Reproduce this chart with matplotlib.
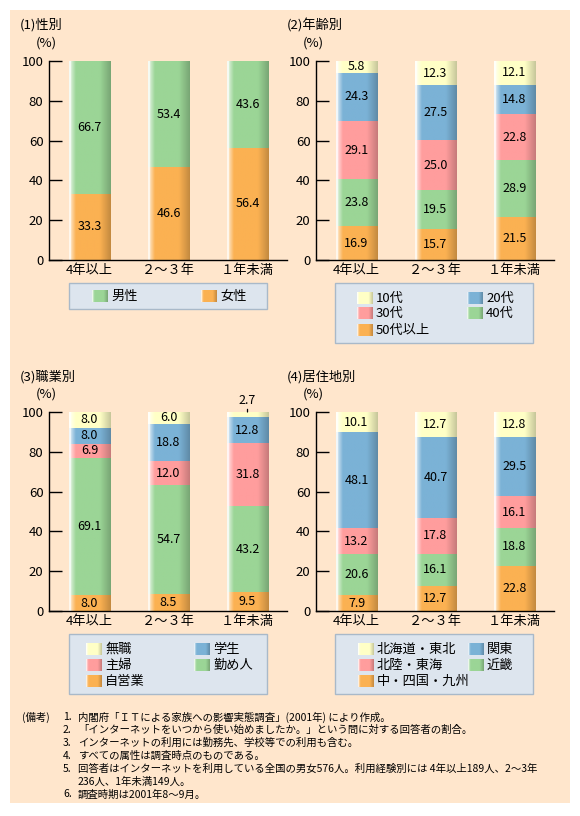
import numpy as np
import matplotlib
matplotlib.use('Agg')
import matplotlib.pyplot as plt
from matplotlib.patches import Rectangle

plt.rcParams['font.family'] = ['Noto Sans CJK JP', 'DejaVu Sans']

# データ
cats = ['4年以上', '２～３年', '１年未満']

sex_names = ['女性', '男性']
sex_vals = [[33.3, 46.6, 56.4], [66.7, 53.4, 43.6]]

age_names = ['50代以上', '40代', '30代', '20代', '10代']
age_vals = [[16.9, 15.7, 21.5], [23.8, 19.5, 28.9], [29.1, 25.0, 22.8],
            [24.3, 27.5, 14.8], [5.8, 12.3, 12.1]]

job_names = ['自営業', '勤め人', '主婦', '学生', '無職']
job_vals = [[8.0, 8.5, 9.5], [69.1, 54.7, 43.2], [6.9, 12.0, 31.8],
            [8.0, 18.8, 12.8], [8.0, 6.0, 2.7]]

area_names = ['中・四国・九州', '近畿', '北陸・東海', '関東', '北海道・東北']
area_vals = [[7.9, 12.7, 22.8], [20.6, 16.1, 18.8], [13.2, 17.8, 16.1],
             [48.1, 40.7, 29.5], [10.1, 12.7, 12.8]]

notes = [
    ('(備考)', '1.', '内閣府「ＩＴによる家族への影響実態調査」(2001年) により作成。'),
    ('', '2.', '「インターネットをいつから使い始めましたか。」という問に対する回答者の割合。'),
    ('', '3.', 'インターネットの利用には勤務先、学校等での利用も含む。'),
    ('', '4.', 'すべての属性は調査時点のものである。'),
    ('', '5.', '回答者はインターネットを利用している全国の男女576人。利用経験別には 4年以上189人、2～3年'),
    ('', '', '236人、1年未満149人。'),
    ('', '6.', '調査時期は2001年8～9月。'),
]

ORANGE = '#fbb152'
GREEN = '#9bd596'
PINK = '#ff9d9d'
BLUE = '#7bb2d6'
YELLOW = '#ffffc6'
PEACH = '#ffe6cc'

W, H = 580, 816
fig = plt.figure(figsize=(W / 100, H / 100), dpi=100)
fig.patch.set_facecolor('white')

bg = fig.add_axes([0, 0, 1, 1], zorder=0)
bg.set_xlim(0, W)
bg.set_ylim(H, 0)
bg.axis('off')
bg.add_patch(Rectangle((10, 10), 560, 793, facecolor=PEACH, edgecolor='none'))


def grad_img(color):
    base = np.array(matplotlib.colors.to_rgb(color))
    t = np.linspace(0, 1, 60)
    img = np.zeros((1, len(t), 3))
    for i, v in enumerate(t):
        if v < 0.05:
            c = base + (1 - base) * 0.9
        elif v < 0.16:
            k = 0.55 * (0.16 - v) / 0.11
            c = base + (1 - base) * k
        elif v < 0.74:
            c = base
        else:
            c = base * (1 - 0.22 * (v - 0.74) / 0.26)
        img[0, i] = c
    return img


def shade(ax, x0, x1, y0, y1, color, z=2):
    ax.imshow(grad_img(color), extent=(x0, x1, y0, y1), aspect='auto',
              interpolation='bilinear', zorder=z)


def panel(left, top, names, vals, colors, small=None):
    ax = fig.add_axes([left / W, 1 - (top + 199) / H, 238 / W, 199 / H], zorder=1)
    ax.patch.set_alpha(0)
    x = np.arange(len(cats))
    bottom = np.zeros(len(cats))
    for name, v, c in zip(names, vals, colors):
        bars = ax.bar(x, v, 0.52, bottom=bottom, color=c, label=name)
        for b, val in zip(bars, v):
            shade(ax, b.get_x(), b.get_x() + b.get_width(), b.get_y(),
                  b.get_y() + b.get_height(), c)
            cx = b.get_x() + b.get_width() / 2
            if small is not None and val == small:
                # 細い区分は棒の上に引き出して表示
                ax.annotate(f'{val:.1f}', xy=(cx, 100), xytext=(cx, 106),
                            ha='center', va='center', fontsize=9,
                            annotation_clip=False,
                            arrowprops=dict(arrowstyle='-', lw=0.9, color='black',
                                            shrinkA=3, shrinkB=0))
            else:
                ax.text(cx, b.get_y() + b.get_height() / 2, f'{val:.1f}',
                        ha='center', va='center', fontsize=9, zorder=3)
        bottom += np.array(v)
    ax.set_xlim(-0.513, 2.5)
    ax.set_ylim(0, 100)
    ax.set_yticks(range(0, 101, 20))
    ax.set_xticks(x)
    ax.set_xticklabels(cats, fontsize=9.5)
    ax.tick_params(axis='y', direction='in', length=9, width=1, labelsize=9.5, pad=4)
    ax.tick_params(axis='x', length=0, pad=3)
    for s in ['top', 'right']:
        ax.spines[s].set_visible(False)
    for s in ['left', 'bottom']:
        ax.spines[s].set_linewidth(1.0)
    return ax


def legend_box(x0, y0, w, h, items, cols_x, rows_y):
    bg.add_patch(Rectangle((x0, y0), w, h, facecolor='#dde5ee',
                           edgecolor='#a9b9c9', lw=1))
    for k, (name, c) in enumerate(items):
        cx = cols_x[k % 2]
        cy = rows_y[k // 2]
        shade(bg, cx, cx + 16, cy + 6, cy - 6, c, z=3)
        bg.text(cx + 19, cy, name, ha='left', va='center', fontsize=9.5, zorder=4)


# (1) 性別
panel(49, 61, sex_names, sex_vals, [ORANGE, GREEN])
bg.text(20, 25, '(1)性別', fontsize=9.5, va='center')
bg.text(36, 43, '(%)', fontsize=9.5, va='center')
legend_box(69, 283, 198, 26, [('男性', GREEN), ('女性', ORANGE)], [92, 201], [296])

# (2) 年齢別
panel(316, 61, age_names, age_vals, [ORANGE, GREEN, PINK, BLUE, YELLOW])
bg.text(287, 25, '(2)年齢別', fontsize=9.5, va='center')
bg.text(303, 43, '(%)', fontsize=9.5, va='center')
legend_box(335, 283, 198, 60, [('10代', YELLOW), ('20代', BLUE), ('30代', PINK),
                               ('40代', GREEN), ('50代以上', ORANGE)],
           [357, 467], [298, 313, 330])

# (3) 職業別
panel(49, 412, job_names, job_vals, [ORANGE, GREEN, PINK, BLUE, YELLOW],
      small=2.7)
bg.text(20, 377, '(3)職業別', fontsize=9.5, va='center')
bg.text(36, 394, '(%)', fontsize=9.5, va='center')
legend_box(69, 634, 198, 60, [('無職', YELLOW), ('学生', BLUE), ('主婦', PINK),
                              ('勤め人', GREEN), ('自営業', ORANGE)],
           [86, 194], [649, 665, 681])

# (4) 居住地別
panel(316, 412, area_names, area_vals, [ORANGE, GREEN, PINK, BLUE, YELLOW])
bg.text(287, 377, '(4)居住地別', fontsize=9.5, va='center')
bg.text(303, 394, '(%)', fontsize=9.5, va='center')
legend_box(335, 634, 198, 60, [('北海道・東北', YELLOW), ('関東', BLUE),
                               ('北陸・東海', PINK), ('近畿', GREEN),
                               ('中・四国・九州', ORANGE)],
           [358, 468], [649, 665, 681])

# 備考
for i, (head, num, body) in enumerate(notes):
    y = 717 + i * 12.9
    if head:
        bg.text(22, y, head, fontsize=7.5, va='center')
    if num:
        bg.text(63, y, num, fontsize=7.5, va='center')
    bg.text(78, y, body, fontsize=7.5, va='center')

bg.set_xlim(0, W)
bg.set_ylim(H, 0)
fig.savefig('out.png', dpi=100, facecolor='white')
